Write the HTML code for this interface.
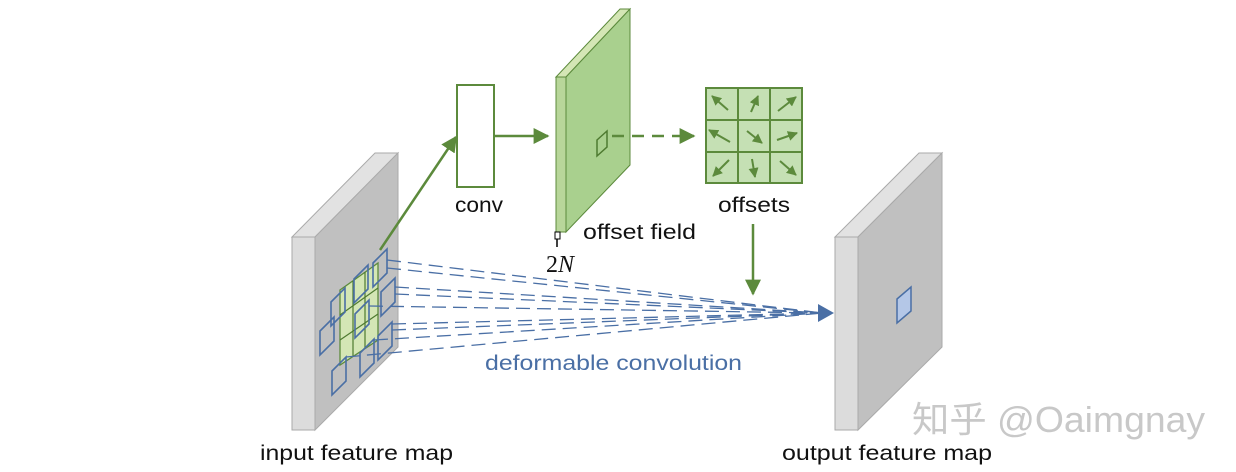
<!DOCTYPE html>
<html><head><meta charset="utf-8"><style>
html,body{margin:0;padding:0;background:#fff;}
svg{display:block;}
</style></head><body>
<svg width="1236" height="472" viewBox="0 0 1236 472" xmlns="http://www.w3.org/2000/svg">
<defs>
<marker id="ga" viewBox="0 0 10 10" refX="9" refY="5" markerWidth="16" markerHeight="16" orient="auto" markerUnits="userSpaceOnUse"><path d="M0,0L10,5L0,10z" fill="#5c8a3c"/></marker>
<marker id="gs" viewBox="0 0 10 10" refX="9" refY="5" markerWidth="10" markerHeight="10" orient="auto" markerUnits="userSpaceOnUse"><path d="M0,0L10,5L0,10z" fill="#5c8a3c"/></marker>
</defs>
<!-- input map -->
<polygon points="292,237 315,237 398,153 375,153" fill="#e2e2e2" stroke="#aaa" stroke-width="1"/>
<rect x="292" y="237" width="23" height="193" fill="#dcdcdc" stroke="#aaa" stroke-width="1"/>
<polygon points="315,237 398,153 398,347 315,430" fill="#c0c0c0" stroke="#aaa" stroke-width="1"/>
<!-- green kernel -->
<polygon points="340,290 378,263 378,340 340,365" fill="#d4e6b5" stroke="#5c8a3c" stroke-width="1.3"/>
<g stroke="#4e7a30" stroke-width="1.2" fill="none">
<line x1="353" y1="281" x2="353" y2="357"/><line x1="365" y1="272" x2="365" y2="348"/>
<line x1="340" y1="315" x2="378" y2="288"/><line x1="340" y1="340" x2="378" y2="314"/>
</g>
<!-- blue squares -->
<g stroke="#4a6fa5" stroke-width="1.6" fill="none">
<polygon points="373,263 387,249 387,273 373,287"/>
<polygon points="354,279 368,265 368,289 354,303"/>
<polygon points="331,302 345,288 345,312 331,326"/>
<polygon points="381,292 395,278 395,302 381,316"/>
<polygon points="355,314 369,300 369,324 355,338"/>
<polygon points="320,331 334,317 334,341 320,355"/>
<polygon points="378,336 392,322 392,346 378,360"/>
<polygon points="332,371 346,357 346,381 332,395"/>
<polygon points="360,353 374,339 374,363 360,377"/>
</g>
<!-- dashed lines -->
<g stroke="#4a6fa5" stroke-width="1.3" stroke-dasharray="14,7" fill="none">
<line x1="387" y1="260" x2="822" y2="313"/>
<line x1="387" y1="268" x2="822" y2="313"/>
<line x1="395" y1="287" x2="822" y2="313"/>
<line x1="395" y1="294" x2="822" y2="313"/>
<line x1="369" y1="306" x2="822" y2="313"/>
<line x1="392" y1="324" x2="822" y2="313"/>
<line x1="392" y1="330" x2="822" y2="313"/>
<line x1="374" y1="340" x2="822" y2="313"/>
<line x1="346" y1="357" x2="822" y2="313"/>
</g>
<polygon points="818,304 834,313 818,322" fill="#4a6fa5"/>
<!-- output map -->
<polygon points="835,237 858,237 942,153 919,153" fill="#e2e2e2" stroke="#aaa" stroke-width="1"/>
<rect x="835" y="237" width="23" height="193" fill="#dcdcdc" stroke="#aaa" stroke-width="1"/>
<polygon points="858,237 942,153 942,347 858,430" fill="#c0c0c0" stroke="#aaa" stroke-width="1"/>
<polygon points="897,299 911,287 911,311 897,323" fill="#b4c7e7" stroke="#4a6fa5" stroke-width="1.5"/>
<!-- conv -->
<line x1="380" y1="250" x2="456" y2="137" stroke="#5c8a3c" stroke-width="2.5" marker-end="url(#ga)"/>
<rect x="457" y="85" width="37" height="102" fill="#fff" stroke="#5c8a3c" stroke-width="2"/>
<line x1="494" y1="136" x2="548" y2="136" stroke="#5c8a3c" stroke-width="2.5" marker-end="url(#ga)"/>
<!-- offset field -->
<polygon points="556,77 566,77 630,9 620,9" fill="#d4e6b5" stroke="#5c8a3c" stroke-width="1"/>
<rect x="556" y="77" width="10" height="155" fill="#b8d69a" stroke="#5c8a3c" stroke-width="1"/>
<polygon points="566,77 630,9 630,165 566,232" fill="#a9d08e" stroke="#5c8a3c" stroke-width="1"/>
<polygon points="597,140 607,131 607,147 597,156" fill="none" stroke="#4e7a30" stroke-width="1.5"/>
<line x1="557" y1="232" x2="557" y2="247" stroke="#000" stroke-width="1.5"/>
<rect x="555" y="232" width="5" height="7" fill="#fff" stroke="#000" stroke-width="1"/>
<line x1="612" y1="136" x2="694" y2="136" stroke="#5c8a3c" stroke-width="2.5" stroke-dasharray="12,8" marker-end="url(#ga)"/>
<!-- offsets grid -->
<rect x="706" y="88" width="96" height="95" fill="#c5e0b4" stroke="#5c8a3c" stroke-width="2"/>
<g stroke="#5c8a3c" stroke-width="2"><line x1="738" y1="88" x2="738" y2="183"/><line x1="770" y1="88" x2="770" y2="183"/><line x1="706" y1="120" x2="802" y2="120"/><line x1="706" y1="152" x2="802" y2="152"/></g>
<g stroke="#5c8a3c" stroke-width="2" marker-end="url(#gs)" fill="none">
<line x1="728" y1="110" x2="712" y2="96"/>
<line x1="751" y1="112" x2="758" y2="96"/>
<line x1="778" y1="111" x2="796" y2="97"/>
<line x1="730" y1="142" x2="709" y2="130"/>
<line x1="747" y1="131" x2="762" y2="143"/>
<line x1="777" y1="140" x2="797" y2="133"/>
<line x1="729" y1="160" x2="713" y2="176"/>
<line x1="752" y1="159" x2="755" y2="177"/>
<line x1="780" y1="161" x2="796" y2="175"/>
</g>
<line x1="753" y1="224" x2="753" y2="294" stroke="#5c8a3c" stroke-width="2.5" marker-end="url(#ga)"/>
<!-- text -->
<g font-family="Liberation Sans, sans-serif" font-size="21" fill="#111" lengthAdjust="spacingAndGlyphs">
<text x="455" y="212" textLength="48" lengthAdjust="spacingAndGlyphs">conv</text>
<text x="583" y="239" textLength="113" lengthAdjust="spacingAndGlyphs">offset field</text>
<text x="718" y="212" textLength="72" lengthAdjust="spacingAndGlyphs">offsets</text>
<text x="260" y="460" textLength="193" lengthAdjust="spacingAndGlyphs">input feature map</text>
<text x="782" y="460" textLength="210" lengthAdjust="spacingAndGlyphs">output feature map</text>
</g>
<text x="546" y="272" font-family="Liberation Serif, serif" font-size="24" fill="#111">2<tspan font-style="italic">N</tspan></text>
<text x="485" y="370" font-family="Liberation Sans, sans-serif" font-size="21" fill="#4a6fa5" textLength="257" lengthAdjust="spacingAndGlyphs">deformable convolution</text>
<text x="912" y="432" font-family="Liberation Sans, 'Noto Sans CJK SC', sans-serif" font-size="36" fill="#c8c8c8" textLength="293" lengthAdjust="spacingAndGlyphs">知乎 @Oaimgnay</text>
</svg>
</body></html>
